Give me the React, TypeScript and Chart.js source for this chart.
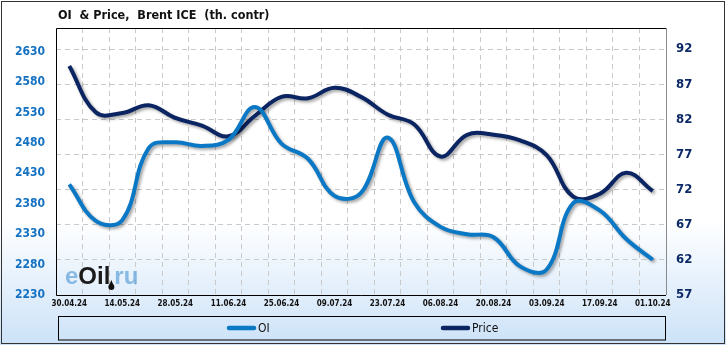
import React, { useEffect, useRef } from 'react';
import { Chart, registerables } from 'chart.js';

Chart.register(...registerables);

const DATES = [
  '30.04.24', '07.05.24', '14.05.24', '21.05.24', '28.05.24', '04.06.24', '11.06.24', '18.06.24',
  '25.06.24', '02.07.24', '09.07.24', '16.07.24', '23.07.24', '30.07.24', '06.08.24', '13.08.24',
  '20.08.24', '27.08.24', '03.09.24', '10.09.24', '17.09.24', '24.09.24', '01.10.24',
];
const OI = [2412, 2352, 2353, 2472, 2481, 2475, 2485, 2539, 2479, 2454, 2393, 2398, 2489, 2383, 2342, 2330, 2325, 2277, 2272, 2381, 2369, 2322, 2288];
const PRICE = [89.6, 83.0, 82.9, 84.0, 82.2, 81.1, 79.6, 82.5, 85.2, 85.0, 86.5, 85.2, 82.7, 81.3, 76.7, 79.8, 79.8, 79.0, 76.9, 71.0, 71.4, 74.4, 71.8];
const OI_TICKS = [2230, 2280, 2330, 2380, 2430, 2480, 2530, 2580, 2630];
const PRICE_TICKS = [57, 62, 67, 72, 77, 82, 87, 92];
const TITLE = 'OI  & Price,  Brent ICE  (th. contr)';
const SERIES_NAMES = ['OI', 'Price'];

const FONT = "'DejaVu Sans Condensed', 'DejaVu Sans', sans-serif";
const OI_COLOR = '#0a78c4';
const PRICE_COLOR = '#0b2462';

const decorPlugin = {
  id: 'decor',
  beforeDraw(chart: any) {
    const { ctx, width, height } = chart;
    ctx.save();
    const g = ctx.createLinearGradient(0, 0, 0, height);
    g.addColorStop(0, '#ffffff');
    g.addColorStop(0.64, '#ffffff');
    g.addColorStop(1, '#cce2f8');
    ctx.fillStyle = g;
    ctx.fillRect(0, 0, width, height);
    ctx.strokeStyle = '#333333';
    ctx.lineWidth = 1;
    ctx.strokeRect(1.5, 1.5, width - 3, height - 3);
    ctx.fillStyle = '#111111';
    ctx.font = `bold 12.5px ${FONT}`;
    ctx.textBaseline = 'middle';
    ctx.textAlign = 'left';
    ctx.fillText(TITLE, 58, 16);
    ctx.restore();
  },
  beforeDatasetsDraw(chart: any) {
    const { ctx, chartArea: a } = chart;
    ctx.save();
    // watermark
    ctx.textBaseline = 'alphabetic';
    ctx.textAlign = 'left';
    ctx.font = `bold 24px 'Liberation Sans', Arial, sans-serif`;
    let x = 65;
    const y = 284;
    ctx.fillStyle = 'rgba(110,170,220,0.8)';
    ctx.fillText('e', x, y);
    x += ctx.measureText('e').width;
    ctx.fillStyle = '#1a1a1a';
    ctx.fillText('Oil', x, y);
    x += ctx.measureText('Oil').width;
    const dropX = x + 1;
    ctx.fillStyle = 'rgba(110,170,220,0.8)';
    ctx.fillText('ru', x + 4, y);
    ctx.fillStyle = '#111';
    ctx.beginPath();
    ctx.arc(dropX, y + 3, 3, 0, Math.PI * 2);
    ctx.fill();
    ctx.beginPath();
    ctx.moveTo(dropX - 2.6, y + 2);
    ctx.lineTo(dropX, y - 4);
    ctx.lineTo(dropX + 2.6, y + 2);
    ctx.fill();
    // frame
    ctx.lineWidth = 1;
    ctx.strokeStyle = '#000000';
    ctx.beginPath();
    ctx.moveTo(a.right, a.top + 0.5);
    ctx.lineTo(a.left + 0.5, a.top + 0.5);
    ctx.lineTo(a.left + 0.5, a.bottom + 0.5);
    ctx.lineTo(a.right, a.bottom + 0.5);
    ctx.stroke();
    ctx.strokeStyle = '#8a8a8a';
    ctx.beginPath();
    ctx.moveTo(a.right + 0.5, a.top);
    ctx.lineTo(a.right + 0.5, a.bottom);
    ctx.stroke();
    ctx.restore();
  },
  beforeDatasetDraw(chart: any) {
    const c = chart.ctx;
    c.save();
    c.shadowColor = 'rgba(0,0,0,0.35)';
    c.shadowBlur = 3;
    c.shadowOffsetX = 2;
    c.shadowOffsetY = 2;
  },
  afterDatasetDraw(chart: any) {
    chart.ctx.restore();
  },
  afterDraw(chart: any) {
    const { ctx } = chart;
    ctx.save();
    ctx.strokeStyle = '#000';
    ctx.lineWidth = 1;
    ctx.strokeRect(58.5, 316.5, 607, 23.5);
    const items = [
      { x: 227, ds: chart.data.datasets[0] },
      { x: 441, ds: chart.data.datasets[1] },
    ];
    ctx.font = `12px ${FONT}`;
    ctx.textBaseline = 'middle';
    ctx.textAlign = 'left';
    items.forEach((it) => {
      ctx.strokeStyle = it.ds.borderColor;
      ctx.lineWidth = 4.5;
      ctx.lineCap = 'round';
      ctx.beginPath();
      ctx.moveTo(it.x + 2, 328);
      ctx.lineTo(it.x + 27, 328);
      ctx.stroke();
      ctx.fillStyle = '#111';
      ctx.fillText(it.ds.label, it.x + 31, 328.5);
    });
    ctx.restore();
  },
};

export default function App() {
  const ref = useRef<HTMLCanvasElement>(null);
  useEffect(() => {
    document.body.style.margin = '0';
    if (!ref.current) return;
    const chart = new Chart(ref.current, {
      type: 'line',
      data: {
        labels: DATES,
        datasets: [
          {
            label: SERIES_NAMES[0],
            data: OI,
            yAxisID: 'yL',
            borderColor: OI_COLOR,
            backgroundColor: OI_COLOR,
            borderWidth: 4,
            pointRadius: 0,
            tension: 0.4,
            fill: false,
          },
          {
            label: SERIES_NAMES[1],
            data: PRICE,
            yAxisID: 'yR',
            borderColor: PRICE_COLOR,
            backgroundColor: PRICE_COLOR,
            borderWidth: 4,
            pointRadius: 0,
            tension: 0.4,
            fill: false,
          },
        ],
      },
      options: {
        responsive: false,
        animation: false,
        layout: { padding: { top: 28, left: 0, right: 0, bottom: 0 } },
        plugins: {
          legend: { display: false },
          title: { display: false },
          tooltip: { enabled: false },
        },
        scales: {
          x: {
            type: 'category',
            offset: true,
            grid: { display: true, offset: true, color: '#c9c9c9', drawTicks: false, lineWidth: 1 },
            border: { display: false, dash: [5, 4] },
            ticks: {
              autoSkip: false,
              maxRotation: 0,
              padding: 4,
              color: '#111',
              font: { family: FONT, size: 8, weight: 'bold' },
              callback: (_v: any, i: number) => (i % 2 === 0 ? DATES[i] : ''),
            },
            afterFit: (s: any) => {
              s.height = 50;
            },
          },
          yL: {
            type: 'linear',
            position: 'left',
            min: 2230,
            max: 2669,
            grid: { display: false, drawTicks: false },
            border: { display: false },
            afterBuildTicks: (axis: any) => {
              axis.ticks = OI_TICKS.map((v) => ({ value: v }));
            },
            ticks: {
              padding: 11,
              color: '#1572c2',
              font: { family: FONT, size: 12, weight: 'bold' },
              callback: (v: any) => String(v),
            },
            afterFit: (s: any) => {
              s.width = 56;
            },
          },
          yR: {
            type: 'linear',
            position: 'right',
            min: 57,
            max: 95,
            grid: { display: true, color: '#c9c9c9', drawTicks: false, lineWidth: 1 },
            border: { display: false, dash: [5, 4] },
            afterBuildTicks: (axis: any) => {
              axis.ticks = PRICE_TICKS.map((v) => ({ value: v }));
            },
            ticks: {
              padding: 10,
              color: '#0d2a68',
              font: { family: FONT, size: 13, weight: 'bold' },
              callback: (v: any) => String(v),
            },
            afterFit: (s: any) => {
              s.width = 60;
            },
          },
        },
      },
      plugins: [decorPlugin],
    });
    return () => chart.destroy();
  }, []);
  return (
    <div style={{ width: 726, height: 345 }}>
      <canvas ref={ref} width={726} height={345} style={{ display: 'block' }} />
    </div>
  );
}
